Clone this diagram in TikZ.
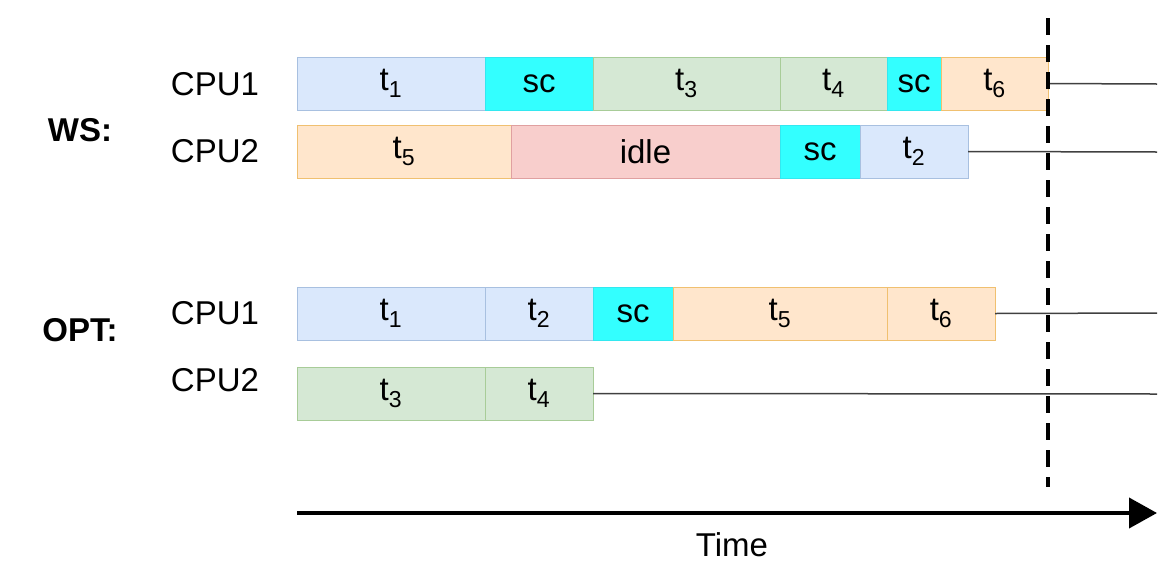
\documentclass[tikz,border=0pt]{standalone}
\usepackage{fontspec}
\setmainfont{Liberation Sans}
\usetikzlibrary{arrows.meta}
\definecolor{bF}{HTML}{DAE8FC}\definecolor{bD}{HTML}{A8C0E0}
\definecolor{gF}{HTML}{D5E8D4}\definecolor{gD}{HTML}{A8CC98}
\definecolor{oF}{HTML}{FFE6CC}\definecolor{oD}{HTML}{F0C070}
\definecolor{rF}{HTML}{F8CECC}\definecolor{rD}{HTML}{E0A0A0}
\definecolor{cF}{HTML}{33FFFF}\definecolor{cD}{HTML}{33E8F0}
\tikzset{
 seg/.style={draw=#1D,fill=#1F,line width=0.8pt,inner sep=0pt},
 lab/.style={font=\fontsize{33}{38}\selectfont},
 hd/.style={font=\bfseries\fontsize{33}{38}\selectfont},
 tl/.style={draw=black!75,line width=1.5pt}
}
\newcommand{\sub}[1]{\textsubscript{#1}}
\newcommand{\sg}[7]{\path[seg=#2] (#3,#5) rectangle (#4,#6); \node[lab] (#1) at ({(#3+#4)/2},{(#5+#6)/2}) {#7};
 \coordinate (#1e) at (#4,{(#5+#6)/2});}
\begin{document}
\begin{tikzpicture}[x=1pt,y=-1pt]
\useasboundingbox (0,0) rectangle (1163,571);
\sg{a1}{b}{297}{485}{57}{110}{t\sub{1}}
\sg{a2}{c}{485}{593}{57}{110}{sc}
\sg{a3}{g}{593}{780}{57}{110}{t\sub{3}}
\sg{a4}{g}{780}{887}{57}{110}{t\sub{4}}
\sg{a5}{c}{887}{941}{57}{110}{sc}
\sg{a6}{o}{941}{1048}{57}{110}{t\sub{6}}
\sg{b1}{o}{297}{511}{125}{178}{t\sub{5}}
\sg{b2}{r}{511}{780}{125}{178}{idle}
\sg{b3}{c}{780}{860}{125}{178}{sc}
\sg{b4}{b}{860}{968}{125}{178}{t\sub{2}}
\sg{c1}{b}{297}{485}{287}{340}{t\sub{1}}
\sg{c2}{b}{485}{593}{287}{340}{t\sub{2}}
\sg{c3}{c}{593}{673}{287}{340}{sc}
\sg{c4}{o}{673}{887}{287}{340}{t\sub{5}}
\sg{c5}{o}{887}{995}{287}{340}{t\sub{6}}
\sg{d1}{g}{297}{485}{367}{420}{t\sub{3}}
\sg{d2}{g}{485}{593}{367}{420}{t\sub{4}}
\coordinate (ea) at (1157,84);
\coordinate (eb) at (1157,152);
\coordinate (ec) at (1157,313);
\coordinate (ed) at (1157,394);
\draw[tl] (a6e) -- (ea);
\draw[tl] (b4e) -- (eb);
\draw[tl] (c5e) -- (ec);
\draw[tl] (d2e) -- (ed);
\node[lab] (l1) at (215,84) {CPU1};
\node[lab] (l2) at (215,151) {CPU2};
\node[lab] (l3) at (215,313) {CPU1};
\node[lab] (l4) at (215,380) {CPU2};
\node[hd] (ws) at (80,130) {WS:};
\node[hd] (opt) at (80,330) {OPT:};
\coordinate (dt) at (1048,18);
\coordinate (db) at (1048,487);
\draw[line width=4pt,dash pattern=on 17pt off 10pt] (dt) -- (db);
\coordinate (ts) at (297,513);
\coordinate (te) at (1157,513);
\draw[line width=4pt,-{Triangle[length=28pt,width=30pt]}] (ts) -- (te);
\node[lab] (time) at (732,545) {Time};
\end{tikzpicture}
\end{document}
